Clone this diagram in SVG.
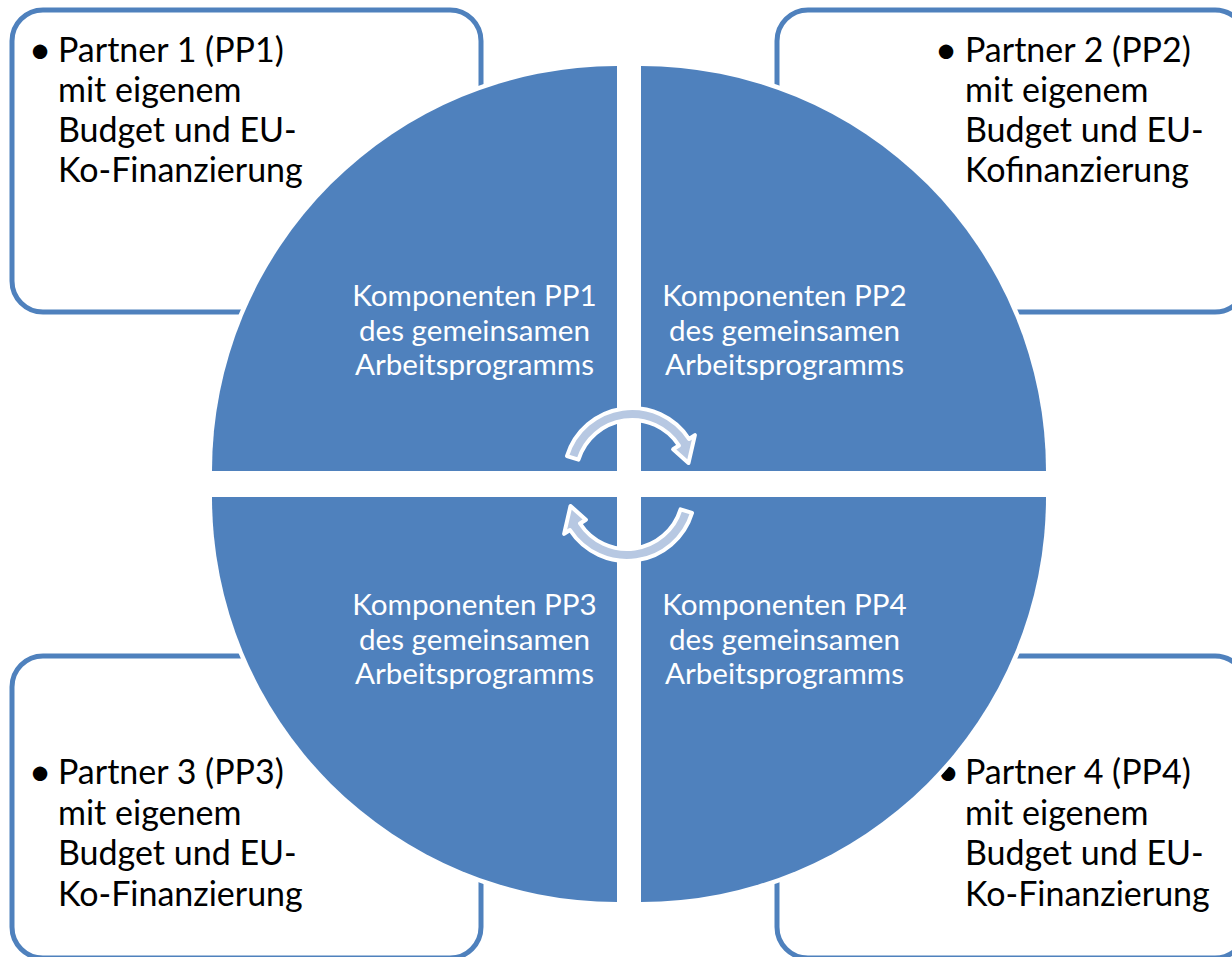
<svg xmlns="http://www.w3.org/2000/svg" xmlns:xlink="http://www.w3.org/1999/xlink" width="1232" height="957" viewBox="0 0 1232 957">
<style>
.box{fill:#FFFFFF;stroke:#4F81BD;stroke-width:5}
.quad{fill:#4F81BD;stroke:#FFFFFF;stroke-width:9;paint-order:stroke}
.bt{font-family:Lato,"Open Sans",sans-serif;font-size:34px;fill:#000000}
.bl{font-family:Lato,"Open Sans",sans-serif;font-size:39px;fill:#000000;text-anchor:middle}
.it{font-family:Lato,"Open Sans",sans-serif;font-size:29.6px;fill:#FFFFFF;text-anchor:middle}
.arrow{fill:#B7C8E2;stroke:#FFFFFF;stroke-width:4;stroke-linejoin:round}
</style>
<defs>
<path id="carrow" d="M578.45,459.63 L566.97,456.12 A68,68 0 0 1 689.03,438.97 L694.9,435.15 L688.5,463 L673.1,449.3 L678.97,445.5 A56,56 0 0 0 578.45,459.63 Z"/>
</defs>
<rect width="1232" height="957" fill="#FFFFFF"/>
<g id="box-pp1">
<rect class="box" x="12" y="10" width="469" height="302" rx="31" ry="31"/>
<text class="bl" x="40" y="63">•</text>
<text class="bt" x="58" y="62">Partner 1 (PP1)</text>
<text class="bt" x="58" y="102">mit eigenem</text>
<text class="bt" x="58" y="142">Budget und EU-</text>
<text class="bt" x="58" y="182">Ko-Finanzierung</text>
</g>
<g id="box-pp2">
<rect class="box" x="777" y="10" width="469" height="302" rx="31" ry="31"/>
<text class="bl" x="946" y="63">•</text>
<text class="bt" x="965" y="62">Partner 2 (PP2)</text>
<text class="bt" x="965" y="102">mit eigenem</text>
<text class="bt" x="965" y="142">Budget und EU-</text>
<text class="bt" x="965" y="182">Kofinanzierung</text>
</g>
<g id="box-pp3">
<rect class="box" x="12" y="656" width="469" height="302" rx="31" ry="31"/>
<text class="bl" x="40" y="785">•</text>
<text class="bt" x="58" y="784">Partner 3 (PP3)</text>
<text class="bt" x="58" y="824.5">mit eigenem</text>
<text class="bt" x="58" y="865">Budget und EU-</text>
<text class="bt" x="58" y="905.5">Ko-Finanzierung</text>
</g>
<g id="box-pp4">
<rect class="box" x="777" y="656" width="469" height="302" rx="31" ry="31"/>
<text class="bl" x="948" y="785">•</text>
<text class="bt" x="965" y="784">Partner 4 (PP4)</text>
<text class="bt" x="965" y="824.5">mit eigenem</text>
<text class="bt" x="965" y="865">Budget und EU-</text>
<text class="bt" x="965" y="905.5">Ko-Finanzierung</text>
</g>
<g id="quad-pp1">
<path class="quad" d="M617,471 H212 A405,405 0 0 1 617,66 Z"/>
<text class="it" x="474.5" y="306">Komponenten PP1</text>
<text class="it" x="474.5" y="340.5">des gemeinsamen</text>
<text class="it" x="474.5" y="375">Arbeitsprogramms</text>
</g>
<g id="quad-pp2">
<path class="quad" d="M641,471 V66 A405,405 0 0 1 1046,471 Z"/>
<text class="it" x="784.5" y="306">Komponenten PP2</text>
<text class="it" x="784.5" y="340.5">des gemeinsamen</text>
<text class="it" x="784.5" y="375">Arbeitsprogramms</text>
</g>
<g id="quad-pp3">
<path class="quad" d="M617,497 V902 A405,405 0 0 1 212,497 Z"/>
<text class="it" x="474.5" y="615">Komponenten PP3</text>
<text class="it" x="474.5" y="649.5">des gemeinsamen</text>
<text class="it" x="474.5" y="684">Arbeitsprogramms</text>
</g>
<g id="quad-pp4">
<path class="quad" d="M641,497 H1046 A405,405 0 0 1 641,902 Z"/>
<text class="it" x="784.5" y="615">Komponenten PP4</text>
<text class="it" x="784.5" y="649.5">des gemeinsamen</text>
<text class="it" x="784.5" y="684">Arbeitsprogramms</text>
</g>
<g id="connectors">
<use xlink:href="#carrow" class="arrow"/>
<use xlink:href="#carrow" class="arrow" transform="rotate(180 629.5 484.5)"/>
</g>
</svg>
